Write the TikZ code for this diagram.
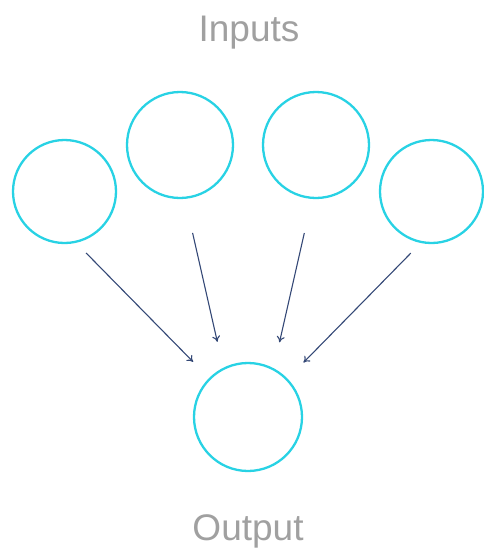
\documentclass[tikz,border=0pt]{standalone}
\usepackage{fontspec}
\setmainfont{Liberation Sans}
\usetikzlibrary{arrows.meta}
\definecolor{ringcyan}{RGB}{40,210,228}
\definecolor{arrownavy}{RGB}{52,72,118}
\definecolor{labelgray}{RGB}{160,160,160}
\tikzset{
  unit/.style={circle, draw=ringcyan, line width=2.3pt, inner sep=0pt, outer sep=0pt, minimum size=#1},
  feed/.style={draw=arrownavy, line width=1.1pt, -{To[length=6pt,width=8pt]}},
  caption/.style={text=labelgray, anchor=base, inner sep=0pt, font=\fontsize{37}{40}\selectfont}
}
\begin{document}
\begin{tikzpicture}[x=1pt, y=-1pt]
  \useasboundingbox (0,0) rectangle (484,549);
  % input layer
  \node[unit=103pt] (in1) at (64.5,191.5) {};
  \node[unit=106pt] (in2) at (180,145) {};
  \node[unit=106pt] (in3) at (316,145) {};
  \node[unit=103pt] (in4) at (431.5,191.5) {};
  % output unit
  \node[unit=108pt] (out) at (248,417) {};
  % labels
  \node[caption] (inlabel) at (249,41) {Inputs};
  \node[caption] (outlabel) at (248,540) {Output};
  % connections
  \draw[feed, shorten <=15.5pt, shorten >=23.8pt] (in1.-78.1) -- (out.135.2);
  \draw[feed, shorten <=36pt, shorten >=27.7pt] (in2.-85.7) -- (out.117.3);
  \draw[feed, shorten <=36pt, shorten >=27.7pt] (in3.-94.3) -- (out.62.7);
  \draw[feed, shorten <=15.5pt, shorten >=23.8pt] (in4.-101.9) -- (out.44.8);
\end{tikzpicture}
\end{document}
